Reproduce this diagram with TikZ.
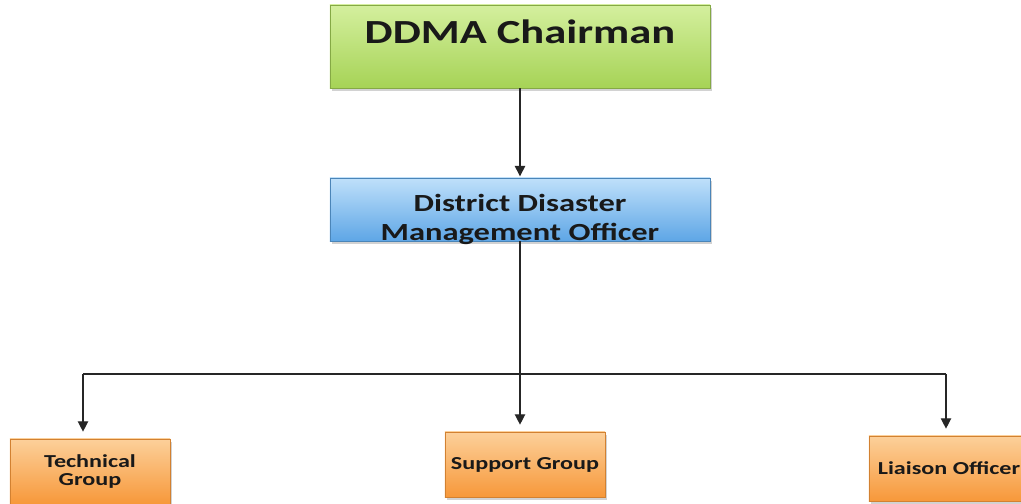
\documentclass[tikz,border=0pt]{standalone}
\usepackage{fontspec}
\setmainfont{Carlito}
\newfontfamily\boxfont[FakeStretch=1.32]{Carlito}
\usetikzlibrary{arrows.meta,positioning,shadows}
\definecolor{greentop}{HTML}{D4EF9E}
\definecolor{greenbot}{HTML}{A6D356}
\definecolor{bluetop}{HTML}{BFE0FA}
\definecolor{bluebot}{HTML}{5EA6E6}
\definecolor{orgtop}{HTML}{FCD09A}
\definecolor{orgbot}{HTML}{F7983A}

\begin{document}
\begin{tikzpicture}[
  x=0.025cm, y=-0.025cm,
  card/.style={rectangle, align=center, text=black!90,
               drop shadow={opacity=0.35, shadow xshift=1.2pt, shadow yshift=-1.8pt}},
  topbox/.style={card, draw=greenbot!80!black, top color=greentop, bottom color=greenbot,
                 minimum width=9.5cm, minimum height=2.075cm, text depth=0.75cm,
                 font=\boxfont\bfseries\fontsize{24}{26}\selectfont},
  midbox/.style={card, draw=bluebot!80!black, top color=bluetop, bottom color=bluebot,
                 minimum width=9.5cm, minimum height=1.575cm},
  midtext/.style={align=center, text=black!90, yshift=-0.25cm,
                  font=\boxfont\bfseries\fontsize{17.5}{20.5}\selectfont},
  grpbox/.style={card, draw=orgbot!85!black, top color=orgtop, bottom color=orgbot,
                 minimum width=4cm, minimum height=1.625cm,
                 font=\boxfont\bfseries\fontsize{13}{12.5}\selectfont},
  link/.style={draw=black!85, line width=0.9pt},
  route/.style={link, -{Triangle[length=2.6mm, width=2.6mm]}, shorten >=5pt}
]
\useasboundingbox (0,0) rectangle (1021,504);
\clip (0,0) rectangle (1021,504);
\fill[white] (0,0) rectangle (1021,504);

% boxes
\node[topbox] (chair) at (520,46.5) {DDMA Chairman};
\node[midbox, label={[midtext]center:District Disaster\\Management Officer}] (ddmo) at (520,209.5) {};
\node[grpbox] (tech) at (90,471.5) {Technical\\Group};
\node[grpbox] (supp) at (525,464.5) {Support Group};
\node[grpbox] (liais) at (949,468.5) {Liaison Officer};

% connectors
\coordinate (hub) at (520,374);
\coordinate (lt) at (83,374);
\coordinate (rt) at (946,374);
\draw[route, shorten >=1pt] (chair.south) -- (ddmo.north);
\draw[route] (ddmo.south) -- (ddmo.south |- supp.north);
\draw[link] (lt) -- (rt);
\draw[route] (lt) -- (lt |- tech.north);
\draw[route] (rt) -- (rt |- liais.north);
\end{tikzpicture}
\end{document}
